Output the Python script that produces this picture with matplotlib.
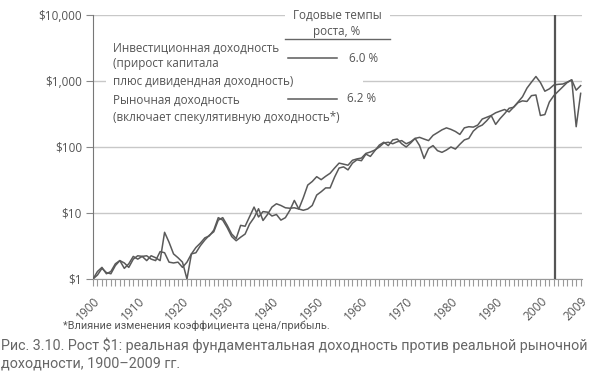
import matplotlib
matplotlib.use("Agg")
import matplotlib.pyplot as plt
from matplotlib.patches import Rectangle
from matplotlib.ticker import FixedLocator, FuncFormatter, MultipleLocator

years = list(range(1900, 2010))

# рост $1, инвестиционная (фундаментальная) доходность
investment = [
    1.0, 1.15, 1.45, 1.25, 1.2, 1.6, 1.9, 1.75, 1.5, 2.0,
    2.25, 2.2, 1.9, 2.25, 2.1, 1.9, 5.1, 3.6, 2.4, 2.1,
    1.8, 1.0, 2.4, 3.0, 3.5, 4.2, 4.5, 5.5, 8.5, 7.8,
    6.0, 4.4, 3.8, 4.3, 4.8, 6.8, 8.5, 11.6, 7.7, 9.5,
    12.3, 13.8, 13.0, 12.0, 11.8, 12.0, 11.5, 17.0, 26.5, 30.0,
    35.5, 32.0, 36.0, 40.0, 48.0, 57.0, 55.0, 53.0, 63.0, 66.0,
    68.0, 80.0, 84.0, 90.0, 100.0, 115.0, 118.0, 112.0, 120.0, 125.0,
    112.0, 120.0, 135.0, 140.0, 132.0, 125.0, 150.0, 165.0, 182.0, 195.0,
    185.0, 172.0, 155.0, 195.0, 203.0, 200.0, 215.0, 265.0, 282.0, 300.0,
    330.0, 350.0, 370.0, 340.0, 400.0, 470.0, 500.0, 490.0, 600.0, 614.0,
    300.0, 310.0, 480.0, 600.0, 700.0, 815.0, 950.0, 1040.0, 203.0, 650.0,
]

# рост $1, рыночная доходность
market = [
    1.0, 1.3, 1.5, 1.2, 1.3, 1.7, 1.9, 1.45, 1.7, 2.2,
    2.0, 2.2, 2.25, 2.0, 1.9, 2.6, 2.5, 1.8, 1.75, 1.8,
    1.5, 1.8, 2.4, 2.5, 3.2, 3.9, 4.6, 5.2, 7.8, 8.5,
    6.5, 4.8, 4.1, 6.5, 6.3, 8.8, 12.3, 8.7, 10.5, 10.3,
    9.0, 9.5, 7.8, 8.5, 11.0, 15.5, 11.5, 11.0, 11.5, 13.0,
    18.7, 21.0, 24.0, 24.0, 35.0, 48.0, 50.0, 45.0, 57.0, 64.0,
    62.0, 78.0, 72.0, 88.0, 107.0, 118.0, 105.0, 128.0, 132.0, 112.0,
    100.0, 115.0, 135.0, 105.0, 67.0, 95.0, 105.0, 88.0, 83.0, 90.0,
    100.0, 93.0, 110.0, 128.0, 135.0, 174.0, 200.0, 215.0, 250.0, 300.0,
    220.0, 270.0, 320.0, 386.0, 400.0, 480.0, 577.0, 780.0, 960.0, 1170.0,
    950.0, 700.0, 760.0, 870.0, 890.0, 900.0, 960.0, 1040.0, 727.0, 850.0,
]

x_ticks = [1900, 1910, 1920, 1930, 1940, 1950, 1960, 1970, 1980, 1990, 2000, 2009]
y_ticks = [1, 10, 100, 1000, 10000]
y_labels = ["$1", "$10", "$100", "$1,000", "$10,000"]

W, H = 589, 379
GREY = "#5a5a5a"
TXT = "#555555"
plt.rcParams["font.family"] = ["Open Sans", "DejaVu Sans"]

fig = plt.figure(figsize=(W / 100, H / 100), dpi=100)
ax = fig.add_axes([93 / W, 1 - 279 / H, (582 - 93) / W, (279 - 15) / H])


def fx(x):
    return x / W


def fy(y):
    return 1 - y / H


ax.plot(years, investment, color=GREY, lw=1.1, zorder=3)
ax.plot(years, market, color=GREY, lw=1.1, zorder=3)
ax.axvline(2003.2, color="#555555", lw=1.6, zorder=4)

ax.set_yscale("log")
ax.set_ylim(1, 10000)
ax.set_xlim(1900, 2009.3)
ax.yaxis.set_major_locator(FixedLocator(y_ticks))
ax.yaxis.set_major_formatter(FuncFormatter(lambda v, p: y_labels[y_ticks.index(round(v))] if round(v) in y_ticks else ""))
ax.yaxis.set_minor_locator(FixedLocator([]))
ax.set_xticks(x_ticks)
ax.set_xticklabels([str(t) for t in x_ticks], rotation=45, ha="right", va="top",
                   rotation_mode="anchor")
ax.xaxis.set_minor_locator(MultipleLocator(1))

ax.grid(axis="y", color="#c8c8c8", lw=1.0, zorder=1)
for s in ["top", "right"]:
    ax.spines[s].set_visible(False)
ax.spines["left"].set_color("#777777")
ax.spines["bottom"].set_color("#999999")
ax.tick_params(axis="y", length=5, color="#888888", labelsize=8.5, labelcolor=TXT, pad=3)
ax.tick_params(axis="x", which="both", length=5, color="#999999", width=0.8,
               labelsize=8.6, labelcolor=TXT, pad=6)

# белые подложки легенды поверх сетки
ax.add_patch(Rectangle((fx(285), fy(40)), fx(390) - fx(285), fy(8) - fy(40),
                       transform=fig.transFigure, facecolor="white", edgecolor="none",
                       zorder=2, clip_on=False))
ax.add_patch(Rectangle((fx(106), fy(125)), fx(363) - fx(106), fy(40) - fy(125),
                       transform=fig.transFigure, facecolor="white", edgecolor="none",
                       zorder=2, clip_on=False))

fs = 8.4
fig.text(fx(337), fy(15), "Годовые темпы", ha="center", va="center", fontsize=fs, color=TXT)
fig.text(fx(337), fy(31), "роста, %", ha="center", va="center", fontsize=fs, color=TXT)
fig.add_artist(plt.Line2D([fx(285), fx(390)], [fy(39), fy(39)], color="#666666", lw=1.0))

fig.text(fx(113), fy(48), "Инвестиционная доходность", va="center", fontsize=fs, color=TXT)
fig.text(fx(113), fy(64), "(прирост капитала", va="center", fontsize=fs, color=TXT)
fig.text(fx(113), fy(81), "плюс дивидендная доходность)", va="center", fontsize=fs, color=TXT)
fig.add_artist(plt.Line2D([fx(288), fx(337)], [fy(58), fy(58)], color=GREY, lw=1.1))
fig.text(fx(349), fy(58), "6.0 %", va="center", fontsize=fs, color=TXT)

fig.text(fx(113), fy(100), "Рыночная доходность", va="center", fontsize=fs, color=TXT)
fig.text(fx(113), fy(117), "(включает спекулятивную доходность*)", va="center", fontsize=fs, color=TXT)
fig.add_artist(plt.Line2D([fx(288), fx(337)], [fy(99), fy(99)], color=GREY, lw=1.1))
fig.text(fx(347), fy(99), "6.2 %", va="center", fontsize=fs, color=TXT)

fig.text(fx(63), fy(326), "*Влияние изменения коэффициента цена/прибыль.", va="center",
         fontsize=7.8, color=TXT, family=["Roboto", "DejaVu Sans"])
fig.text(fx(1), fy(345), "Рис. 3.10. Рост $1: реальная фундаментальная доходность против реальной рыночной",
         va="center", fontsize=10.3, color="#666666", family=["Roboto", "DejaVu Sans"])
fig.text(fx(1), fy(363), "доходности, 1900–2009 гг.", va="center", fontsize=10.3,
         color="#666666", family=["Roboto", "DejaVu Sans"])

fig.savefig("out.png", dpi=100)
